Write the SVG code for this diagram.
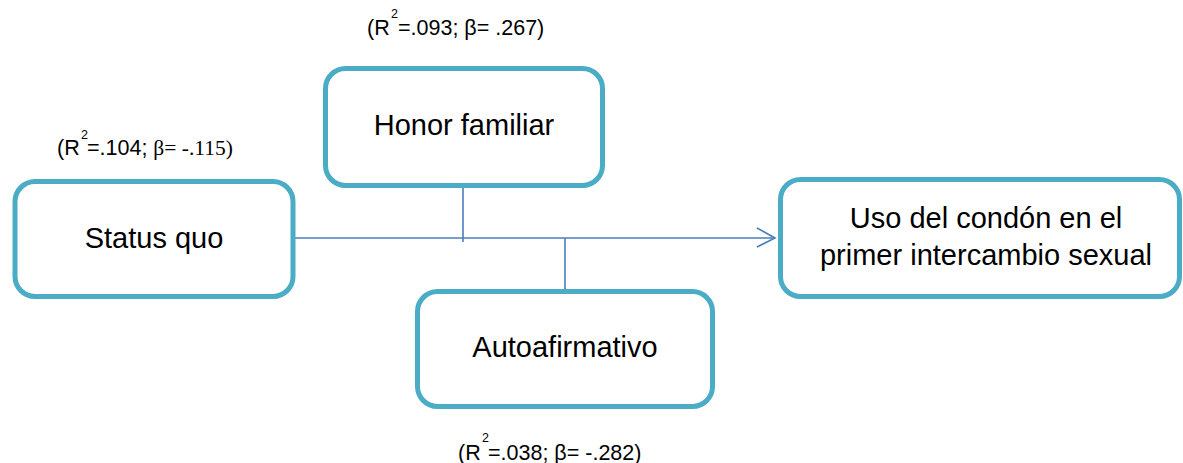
<svg xmlns="http://www.w3.org/2000/svg" width="1183" height="463" viewBox="0 0 1183 463">
<style>
.box{fill:#ffffff;stroke:#4bacc6;stroke-width:5}
.t{font-family:"Liberation Sans",Arial,sans-serif;font-size:29px;fill:#000000;text-anchor:middle}
.lab{font-family:"Liberation Sans",Arial,sans-serif;font-size:21.5px;fill:#000000}
.ser{font-family:"Liberation Serif","Times New Roman",serif}
.sup{font-family:"Liberation Sans",Arial,sans-serif;font-size:12.5px;fill:#000000}
.con{fill:none;stroke:#4a7ebb;stroke-width:1.6}
</style>
<rect width="1183" height="463" fill="#ffffff"/>
<g id="connectors">
<line class="con" x1="295" y1="238" x2="774" y2="238"/>
<polyline class="con" points="757,228 775,238 757,247"/>
<line class="con" x1="463" y1="188" x2="463" y2="242"/>
<line class="con" x1="565" y1="238" x2="565" y2="292"/>
</g>
<g id="status-quo">
<rect class="box" x="15" y="181.5" width="278" height="115" rx="20"/>
<text class="t" x="154" y="248">Status quo</text>
</g>
<g id="honor-familiar">
<rect class="box" x="325.5" y="68.5" width="277" height="117" rx="20"/>
<text class="t" x="464" y="135">Honor familiar</text>
</g>
<g id="autoafirmativo">
<rect class="box" x="417.5" y="291.5" width="295" height="115" rx="20"/>
<text class="t" x="565" y="357">Autoafirmativo</text>
</g>
<g id="uso-condon">
<rect class="box" x="780.5" y="179.5" width="399" height="117" rx="20"/>
<text class="t" x="986" y="228">Uso del condón en el</text>
<text class="t" x="986" y="265">primer intercambio sexual</text>
</g>
<g id="labels">
<text class="lab" x="367" y="35">(R</text>
<text class="sup" x="391" y="18">2</text>
<text class="lab" x="398" y="35">=.093; β= .267)</text>
<text class="lab" x="57" y="155">(R</text>
<text class="sup" x="81" y="139">2</text>
<text class="lab" x="87" y="155">=.104; <tspan class="ser">β= -.115)</tspan></text>
<text class="lab" x="458" y="460">(R</text>
<text class="sup" x="482" y="442">2</text>
<text class="lab" x="488" y="460">=.038; β= -.282)</text>
</g>
</svg>
